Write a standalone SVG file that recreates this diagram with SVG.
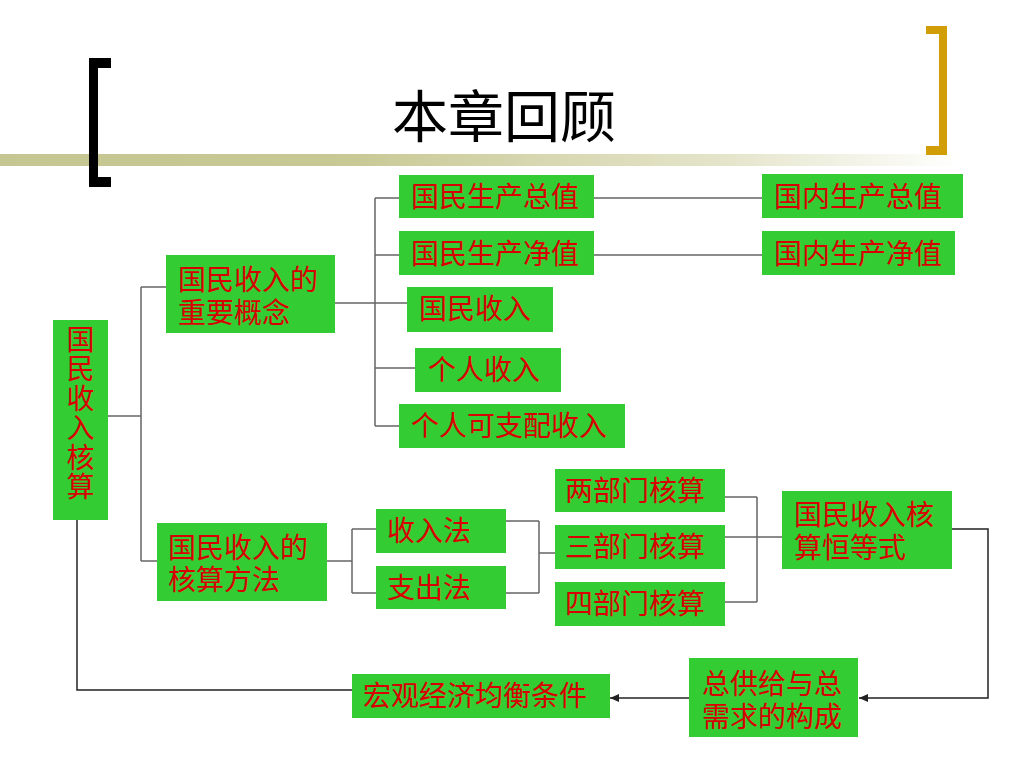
<svg xmlns="http://www.w3.org/2000/svg" width="1024" height="768" viewBox="0 0 1024 768">
<defs>
<linearGradient id="bar" x1="0" y1="0" x2="1" y2="0">
<stop offset="0" stop-color="#C6C692"/>
<stop offset="0.35" stop-color="#C8C894"/>
<stop offset="0.75" stop-color="#E4E4CA"/>
<stop offset="1" stop-color="#FFFFFF"/>
</linearGradient>
<marker id="arr" markerWidth="10" markerHeight="10" refX="9" refY="5" orient="auto" markerUnits="userSpaceOnUse">
<path d="M0,1 L9,5 L0,9 Z" fill="#222"/>
</marker>
<style>
.box{fill:#33CC33;}
.t{font-family:"Noto Sans CJK SC","Noto Sans",sans-serif;font-size:28px;fill:#D80000;}
.tree{fill:none;stroke:#666;stroke-width:1.5;}
.dark{fill:none;stroke:#222;stroke-width:1.5;}
</style>
</defs>
<rect width="1024" height="768" fill="#FFFFFF"/>
<rect x="0" y="154" width="960" height="12" fill="url(#bar)"/>
<path d="M89,58 H111 V68 H98 V177 H111 V187 H89 Z" fill="#000"/>
<path d="M947,26 H926 V34 H939 V146 H926 V155 H947 Z" fill="#D29E08"/>
<text x="504" y="137" text-anchor="middle" font-family="Noto Sans CJK SC, sans-serif" font-size="56" fill="#000">本章回顾</text>

<g id="connectors">
<path class="tree" d="M108,416 H141 M141,287 V561 M141,287 H166 M141,561 H157"/>
<path class="tree" d="M335,303 H407 M375,198 V426 M375,198 H399 M375,255 H399 M375,368 H415 M375,426 H399"/>
<path class="tree" d="M594,198 H762 M594,255 H762"/>
<path class="tree" d="M327,561 H352 M352,529 V593 M352,529 H376 M352,593 H376"/>
<path class="tree" d="M506,521 H539 M506,593 H539 M539,521 V593 M539,553 H555"/>
<path class="tree" d="M725,497 H757 M725,602 H757 M757,497 V602 M725,537 H782"/>
<path class="dark" d="M952,529 H988 V698 H859" marker-end="url(#arr)"/>
<path class="dark" d="M689,698 H610" marker-end="url(#arr)"/>
<path class="dark" d="M352,690 H77 V520"/>
</g>

<g id="n-root">
<rect class="box" x="53" y="320" width="55" height="200"/>
<text class="t" x="80.5" y="325" writing-mode="vertical-rl" letter-spacing="1.5">国民收入核算</text>
</g>
<g id="n-concepts">
<rect class="box" x="166" y="255" width="169" height="78"/>
<text class="t" x="178" y="290">国民收入的<tspan x="178" dy="33">重要概念</tspan></text>
</g>
<g id="n-methods">
<rect class="box" x="157" y="523" width="170" height="78"/>
<text class="t" x="168" y="558">国民收入的<tspan x="168" dy="32">核算方法</tspan></text>
</g>
<g id="n-gnp">
<rect class="box" x="399" y="175" width="195" height="43"/>
<text class="t" x="411" y="207">国民生产总值</text>
</g>
<g id="n-nnp">
<rect class="box" x="399" y="231" width="195" height="44"/>
<text class="t" x="411" y="264">国民生产净值</text>
</g>
<g id="n-ni">
<rect class="box" x="407" y="287" width="146" height="45"/>
<text class="t" x="419" y="319">国民收入</text>
</g>
<g id="n-pi">
<rect class="box" x="415" y="348" width="146" height="44"/>
<text class="t" x="428" y="380">个人收入</text>
</g>
<g id="n-dpi">
<rect class="box" x="399" y="404" width="226" height="44"/>
<text class="t" x="411" y="436">个人可支配收入</text>
</g>
<g id="n-gdp">
<rect class="box" x="762" y="174" width="201" height="44"/>
<text class="t" x="774" y="207">国内生产总值</text>
</g>
<g id="n-ndp">
<rect class="box" x="762" y="231" width="193" height="44"/>
<text class="t" x="774" y="264">国内生产净值</text>
</g>
<g id="n-income">
<rect class="box" x="376" y="509" width="130" height="44"/>
<text class="t" x="387" y="541">收入法</text>
</g>
<g id="n-expend">
<rect class="box" x="376" y="566" width="130" height="43"/>
<text class="t" x="387" y="598">支出法</text>
</g>
<g id="n-two">
<rect class="box" x="555" y="469" width="170" height="43"/>
<text class="t" x="565" y="501">两部门核算</text>
</g>
<g id="n-three">
<rect class="box" x="555" y="525" width="170" height="44"/>
<text class="t" x="565" y="557">三部门核算</text>
</g>
<g id="n-four">
<rect class="box" x="555" y="582" width="170" height="44"/>
<text class="t" x="565" y="614">四部门核算</text>
</g>
<g id="n-identity">
<rect class="box" x="782" y="491" width="170" height="78"/>
<text class="t" x="794" y="525">国民收入核<tspan x="794" dy="33">算恒等式</tspan></text>
</g>
<g id="n-supply">
<rect class="box" x="689" y="658" width="169" height="79"/>
<text class="t" x="702" y="694">总供给与总<tspan x="702" dy="33">需求的构成</tspan></text>
</g>
<g id="n-equil">
<rect class="box" x="352" y="674" width="258" height="44"/>
<text class="t" x="363" y="706">宏观经济均衡条件</text>
</g>
</svg>
